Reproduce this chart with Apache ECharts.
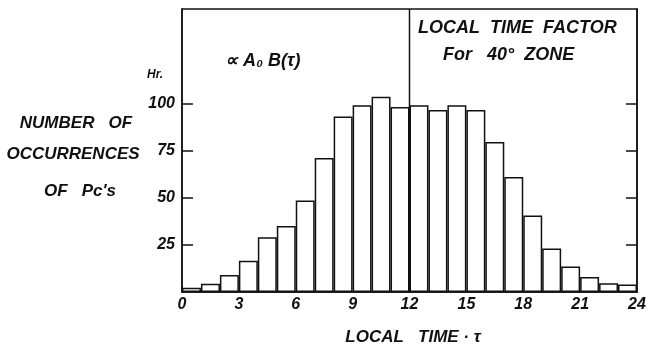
<!DOCTYPE html>
<html>
<head>
<meta charset="utf-8">
<script src="https://cdn.jsdelivr.net/npm/echarts@6/dist/echarts.min.js"></script>
<style>
  html, body { margin: 0; padding: 0; background: #fff; }
  #chart { width: 650px; height: 351px; }
</style>
</head>
<body>
<div id="chart"></div>
<script>
// hourly bins 0-1, 1-2 ... 23-24
const hours = ['0', '1', '2', '3', '4', '5', '6', '7', '8', '9', '10', '11',
  '12', '13', '14', '15', '16', '17', '18', '19', '20', '21', '22', '23']
const counts = [2.3, 4.4, 9, 16.5, 29, 35, 48.5, 71, 93, 99, 103.5, 98,
  99, 96.5, 99, 96.5, 79.5, 61, 40.5, 23, 13.5, 8, 4.6, 4]
const yTicks = [25, 50, 75, 100]
const dividerX = 12

const ink = '#111'
const font = 'Liberation Sans'

const myChart = echarts.init(document.getElementById('chart'))

// text placed by its anchor point (x, y = top of the line)
const txt = (x, y, text, size, align) => ({
  type: 'text',
  x: x,
  y: y,
  style: {
    text: text,
    fill: ink,
    font: 'italic bold ' + size + 'px "' + font + '"',
    textAlign: align || 'left',
    textVerticalAlign: 'top',
  },
})

let option = {
  animation: false,
  grid: {
    left: 182,
    right: 13,
    top: 9,
    bottom: 59,
    show: true,
    borderColor: ink,
    borderWidth: 1.5,
    backgroundColor: 'transparent',
  },
  xAxis: [
    {
      type: 'value',
      min: 0,
      max: 24,
      interval: 3,
      splitLine: { show: false },
      axisTick: { show: false },
      axisLine: { show: true, lineStyle: { color: ink, width: 1.5 } },
      axisLabel: {
        margin: 5,
        color: ink,
        fontFamily: font,
        fontStyle: 'italic',
        fontWeight: 'bold',
        fontSize: 16,
      },
    },
    {
      type: 'category',
      data: hours,
      show: false,
      boundaryGap: true,
    },
  ],
  yAxis: [
    {
      type: 'value',
      min: 0,
      max: 150,
      interval: 25,
      splitLine: { show: false },
      axisLine: { show: true, lineStyle: { color: ink, width: 1.5 } },
      axisTick: {
        show: true,
        inside: true,
        length: 11,
        customValues: yTicks,
        lineStyle: { color: ink, width: 1.5 },
      },
      axisLabel: {
        margin: 7,
        color: ink,
        fontFamily: font,
        fontStyle: 'italic',
        fontWeight: 'bold',
        fontSize: 16,
        customValues: yTicks,
      },
    },
    {
      type: 'value',
      position: 'right',
      min: 0,
      max: 150,
      interval: 25,
      splitLine: { show: false },
      axisLine: { show: true, lineStyle: { color: ink, width: 1.5 } },
      axisTick: {
        show: true,
        inside: true,
        length: 11,
        customValues: yTicks,
        lineStyle: { color: ink, width: 1.5 },
      },
      axisLabel: { show: false },
    },
  ],
  series: [
    {
      type: 'bar',
      xAxisIndex: 1,
      yAxisIndex: 0,
      data: counts,
      barWidth: '100%',
      barCategoryGap: 0,
      itemStyle: {
        color: '#fff',
        borderColor: ink,
        borderWidth: 1.5,
      },
    },
    {
      // divider between the two text panels
      type: 'line',
      xAxisIndex: 0,
      yAxisIndex: 0,
      symbol: 'none',
      data: [[dividerX, 0], [dividerX, 150]],
      lineStyle: { color: ink, width: 1.5 },
      z: 1,
    },
  ],
  graphic: [
    txt(225, 52, '∝ A₀ B(τ)', 18),
    txt(418, 19, 'LOCAL  TIME  FACTOR', 18),
    txt(443, 46, 'For   40°  ZONE', 18),
    txt(147, 69, 'Hr.', 12),
    txt(76, 115, 'NUMBER   OF', 17, 'center'),
    txt(73, 146, 'OCCURRENCES', 17, 'center'),
    txt(80, 183, 'OF   Pc\'s', 17, 'center'),
    txt(413, 329, 'LOCAL   TIME · τ', 17, 'center'),
  ],
}
myChart.setOption(option, true)
</script>
</body>
</html>
